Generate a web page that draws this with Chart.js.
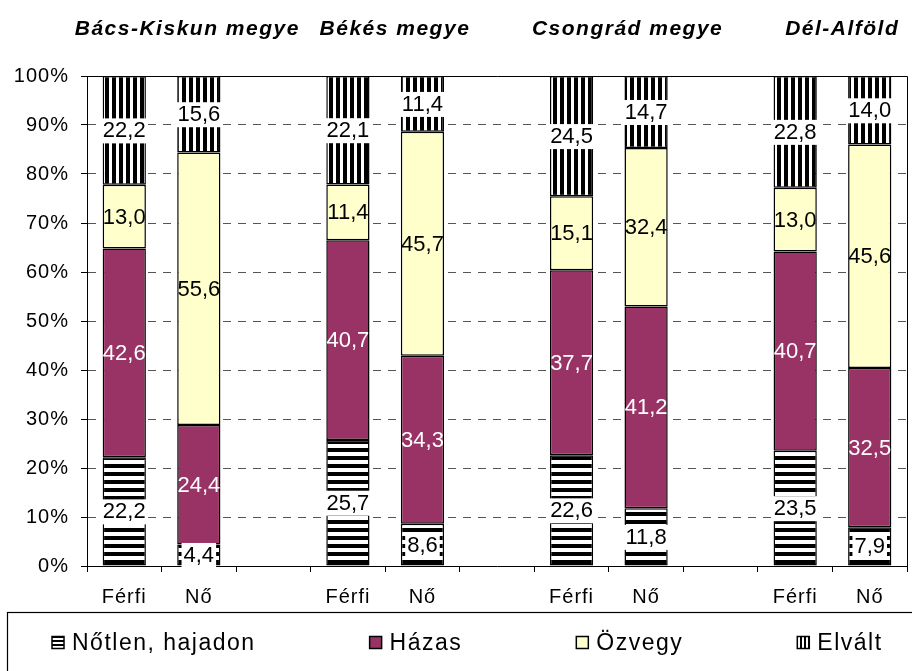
<!DOCTYPE html>
<html>
<head>
<meta charset="utf-8">
<script src="https://cdn.jsdelivr.net/npm/chart.js@4/dist/chart.umd.min.js"></script>
<style>
  html, body { margin: 0; padding: 0; background: #fff; }
  canvas { display: block; }
</style>
</head>
<body>
<canvas id="chart" width="912" height="671"></canvas>
<script>
// --- Data ---
const regions = ['Bács-Kiskun megye', 'Békés megye', 'Csongrád megye', 'Dél-Alföld'];
const sexes = ['Férfi', 'Nő'];
const seriesNames = ['Nőtlen, hajadon', 'Házas', 'Özvegy', 'Elvált'];

// values per bar: Bács F, Bács N, Békés F, Békés N, Csongrád F, Csongrád N, Dél-Alföld F, Dél-Alföld N
const notlen = [22.2, 4.4, 25.7, 8.6, 22.6, 11.8, 23.5, 7.9];
const hazas = [42.6, 24.4, 40.7, 34.3, 37.7, 41.2, 40.7, 32.5];
const ozvegy = [13.0, 55.6, 11.4, 45.7, 15.1, 32.4, 13.0, 45.6];
const elvalt = [22.2, 15.6, 22.1, 11.4, 24.5, 14.7, 22.8, 14.0];

const yTicks = [0, 10, 20, 30, 40, 50, 60, 70, 80, 90, 100];

// --- Build category axis with an empty slot between regions ---
const labels = [];
regions.forEach((r, i) => {
    sexes.forEach(s => labels.push(s));
    if (i < regions.length - 1) labels.push('');
});

const totals = notlen.map((v, i) => v + hazas[i] + ozvegy[i] + elvalt[i]);

function spread(values, asPercent) {
    const out = [];
    let k = 0;
    labels.forEach(l => {
        if (l === '') { out.push(null); return; }
        out.push(asPercent ? values[k] / totals[k] * 100 : values[k]);
        k++;
    });
    return out;
}

// --- Patterns ---
const canvas = document.getElementById('chart');
const mainCtx = canvas.getContext('2d');

function stripes(period, black, horizontal) {
    const c = document.createElement('canvas');
    c.width = period;
    c.height = period;
    const g = c.getContext('2d');
    g.fillStyle = '#fff';
    g.fillRect(0, 0, period, period);
    g.fillStyle = '#000';
    if (horizontal) g.fillRect(0, 0, period, black);
    else g.fillRect(0, 0, black, period);
    return mainCtx.createPattern(c, 'repeat');
}

const hStripes = stripes(8, 4, true);
const vStripes = stripes(7, 4, false);
const hStripesSmall = stripes(4, 2, true);
const vStripesSmall = stripes(4, 2, false);

const seriesValues = [notlen, hazas, ozvegy, elvalt];
const seriesFill = [hStripes, '#993366', '#FFFFCC', vStripes];
const seriesIcon = [hStripesSmall, '#993366', '#FFFFCC', vStripesSmall];
const labelColor = ['#000', '#fff', '#000', '#000'];
const labelBox = [true, false, false, true];

const datasets = seriesNames.map((name, i) => ({
    label: name,
    data: spread(seriesValues[i], true),
    raw: spread(seriesValues[i], false),
    backgroundColor: seriesFill[i],
    borderColor: '#000',
    borderWidth: 1.5,
    borderSkipped: false,
    barPercentage: 0.58,
    categoryPercentage: 1.0
}));

// --- Plugins ---
const letterSpacingPlugin = {
    id: 'letterSpacing',
    beforeDraw(chart) { chart.ctx.letterSpacing = '1px'; }
};

const framePlugin = {
    id: 'frame',
    beforeDatasetsDraw(chart) {
        const { ctx, chartArea: a } = chart;
        ctx.save();
        ctx.strokeStyle = '#000';
        ctx.lineWidth = 1;
        ctx.beginPath();
        ctx.moveTo(a.left, Math.round(a.top) + 0.5);
        ctx.lineTo(Math.round(a.right) + 0.5, Math.round(a.top) + 0.5);
        ctx.lineTo(Math.round(a.right) + 0.5, a.bottom);
        ctx.stroke();
        ctx.restore();
    }
};

const valueLabels = {
    id: 'valueLabels',
    afterDatasetsDraw(chart) {
        const ctx = chart.ctx;
        ctx.save();
        ctx.letterSpacing = '0px';
        ctx.font = '22px "Liberation Sans", Arial, sans-serif';
        ctx.textAlign = 'center';
        ctx.textBaseline = 'middle';
        chart.data.datasets.forEach((ds, di) => {
            const meta = chart.getDatasetMeta(di);
            meta.data.forEach((bar, i) => {
                const v = ds.raw[i];
                if (v === null) return;
                const txt = v.toFixed(1).replace('.', ',');
                const cy = (bar.y + bar.base) / 2;
                const w = ctx.measureText(txt).width;
                if (labelBox[di]) {
                    ctx.fillStyle = '#fff';
                    ctx.fillRect(bar.x - w / 2 - 2, cy - 12, w + 4, 25);
                }
                ctx.fillStyle = labelColor[di];
                ctx.fillText(txt, bar.x, cy + 1);
            });
        });
        ctx.restore();
    }
};

const titleShift = [25, 9, 18, 9];
const regionTitles = {
    id: 'regionTitles',
    afterDraw(chart) {
        const ctx = chart.ctx;
        const x = chart.scales.x;
        ctx.save();
        ctx.letterSpacing = '1.5px';
        ctx.font = 'italic bold 21px "Liberation Sans", Arial, sans-serif';
        ctx.fillStyle = '#000';
        ctx.textAlign = 'center';
        ctx.textBaseline = 'middle';
        regions.forEach((r, g) => {
            const cx = (x.getPixelForValue(3 * g) + x.getPixelForValue(3 * g + 1)) / 2 + titleShift[g];
            ctx.fillText(r, cx + 0.75, 29);
        });
        ctx.restore();
    }
};

const boxLegend = {
    id: 'boxLegend',
    afterDraw(chart) {
        const ctx = chart.ctx;
        const top = chart.height - 59 + 0.5;
        ctx.save();
        ctx.strokeStyle = '#000';
        ctx.lineWidth = 1.2;
        ctx.strokeRect(7.5, top, chart.width + 10, 80);

        ctx.letterSpacing = '1.5px';
        ctx.font = '23px "Liberation Sans", Arial, sans-serif';
        ctx.textAlign = 'left';
        ctx.textBaseline = 'middle';
        const cy = top + 30;
        let px = 52;
        seriesNames.forEach((name, i) => {
            ctx.fillStyle = seriesIcon[i];
            ctx.fillRect(px, cy - 6, 12, 12);
            ctx.lineWidth = 1.5;
            ctx.strokeStyle = '#000';
            ctx.strokeRect(px, cy - 6, 12, 12);
            ctx.fillStyle = '#000';
            const tx = px + 20;
            ctx.fillText(name, tx, cy + 1);
            px = tx + ctx.measureText(name).width + 114;
        });
        ctx.restore();
    }
};

const tickFont = { family: '"Liberation Sans", Arial, sans-serif', size: 20 };

new Chart(canvas, {
    type: 'bar',
    data: { labels, datasets },
    options: {
        responsive: false,
        animation: false,
        events: [],
        layout: { padding: { left: 0, right: 5, top: 76, bottom: 59 } },
        plugins: {
            legend: { display: false },
            tooltip: { enabled: false }
        },
        scales: {
            x: {
                stacked: true,
                grid: { drawOnChartArea: false, offset: true, tickLength: 6, tickColor: '#000', color: '#000' },
                border: { color: '#000', width: 1 },
                ticks: { font: tickFont, color: '#000', padding: 13, autoSkip: false, maxRotation: 0 },
                afterFit: s => { s.height = 46; }
            },
            y: {
                stacked: true,
                min: 0,
                max: 100,
                afterBuildTicks: s => { s.ticks = yTicks.map(v => ({ value: v })); },
                ticks: { font: tickFont, color: '#000', padding: 12, callback: v => v + '%' },
                grid: {
                    color: c => (c.tick && (c.tick.value === 0 || c.tick.value === 100)) ? 'rgba(0,0,0,0)' : '#555',
                    tickLength: 6,
                    tickColor: '#000',
                    lineWidth: 1
                },
                border: { color: '#000', width: 1, dash: [8, 7] },
                afterFit: s => { s.width = 87; }
            }
        }
    },
    plugins: [letterSpacingPlugin, framePlugin, valueLabels, regionTitles, boxLegend]
});
</script>
</body>
</html>
